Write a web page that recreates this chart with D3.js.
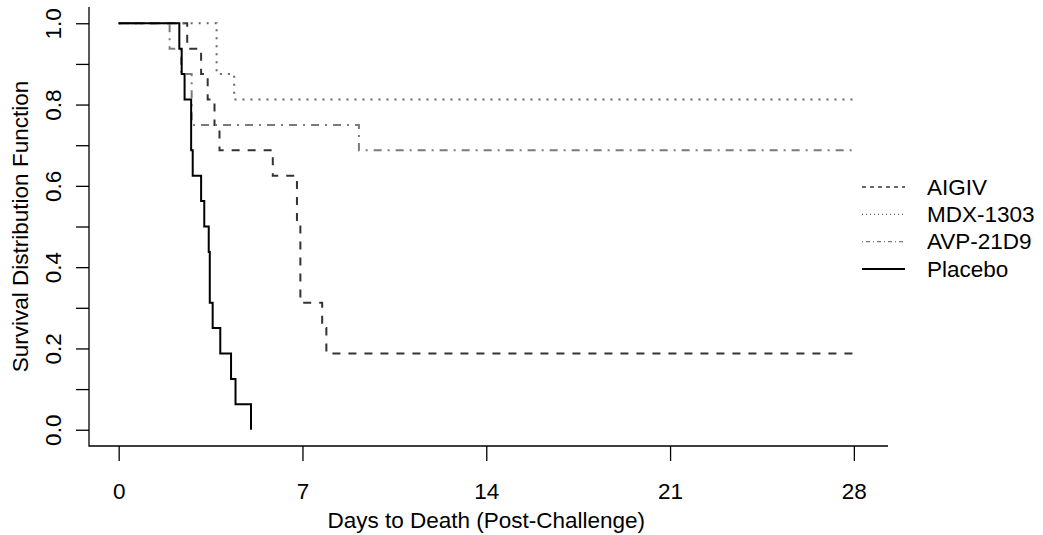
<!DOCTYPE html>
<html>
<head>
<meta charset="utf-8">
<script src="https://cdn.jsdelivr.net/npm/d3@7"></script>
<style>
  html, body { margin: 0; padding: 0; background: #fff; }
  svg { display: block; }
  text { font-family: "Liberation Sans", Arial, sans-serif; fill: #000; }
</style>
</head>
<body>
<svg id="chart" width="1043" height="535"></svg>
<script>
// ---- data (days post-challenge, survival proportion) ----
const seriesNames = ["AIGIV", "MDX-1303", "AVP-21D9", "Placebo"];
const aigivTimes = [0, 2.61, 3.14, 3.39, 3.65, 3.84, 5.87, 6.79, 6.92, 7.75, 7.91, 28];
const aigivSurv  = [1, 0.9375, 0.875, 0.8125, 0.75, 0.6875, 0.625, 0.5, 0.3125, 0.25, 0.1875, 0.1875];
const mdxTimes = [0, 3.73, 4.40, 28];
const mdxSurv  = [1, 0.875, 0.8125, 0.8125];
const avpTimes = [0, 1.94, 2.38, 2.78, 9.15, 28];
const avpSurv  = [1, 0.9375, 0.875, 0.75, 0.6875, 0.6875];
const placeboTimes = [0, 2.31, 2.40, 2.51, 2.76, 2.82, 3.14, 3.26, 3.43, 3.47, 3.58, 3.87, 4.28, 4.45, 5.04];
const placeboSurv  = [1, 0.9375, 0.875, 0.8125, 0.6875, 0.625, 0.5625, 0.5, 0.4375, 0.3125, 0.25, 0.1875, 0.125, 0.0625, 0];
const xTicks = [0, 7, 14, 21, 28];
const yMajorTicks = [0, 0.2, 0.4, 0.6, 0.8, 1.0];
const yMinorTicks = [0.1, 0.3, 0.5, 0.7, 0.9];
const xTitle = "Days to Death (Post-Challenge)";
const yTitle = "Survival Distribution Function";

// ---- styles ----
const FS = 22.5;
const styles = [
  { color: "#333333", dash: "8,8", legendDash: "4,4", w: 2, lw: 1.3 },
  { color: "#666666", dash: "2,6", legendDash: "1,3", w: 2, lw: 1.3 },
  { color: "#7a7a7a", dash: "2,6,8,6", legendDash: "1,3,4,3", w: 2, lw: 1.3 },
  { color: "#000000", dash: null, legendDash: null, w: 2, lw: 2 }
];

const svg = d3.select("#chart");
const x = d3.scaleLinear().domain([-1.13, 29.3]).range([89, 888]);
const y = d3.scaleLinear().domain([-0.04, 1.04]).range([446, 7]);

// axes lines (L-shaped box)
svg.append("path")
  .attr("d", `M${x.range()[0]},${y.range()[1]}V${y.range()[0]}H${x.range()[1]}`)
  .attr("fill", "none").attr("stroke", "#000").attr("stroke-width", 1.3);

// x axis
const xAxis = d3.axisBottom(x).tickValues(xTicks).tickSize(15).tickPadding(22).tickFormat(d3.format("d"));
const gx = svg.append("g").attr("transform", `translate(0,${y.range()[0]})`).call(xAxis);
gx.select(".domain").remove();
gx.selectAll(".tick line").attr("stroke", "#000").attr("stroke-width", 1.3);
gx.selectAll(".tick text").attr("font-size", FS).attr("font-family", "Liberation Sans, Arial, sans-serif");

// y axis
const yAxis = d3.axisLeft(y).tickValues(yMajorTicks.concat(yMinorTicks)).tickSize(13)
  .tickFormat(d => yMajorTicks.includes(d) ? d3.format(".1f")(d) : "");
const gy = svg.append("g").attr("transform", `translate(${x.range()[0]},0)`).call(yAxis);
gy.select(".domain").remove();
gy.selectAll(".tick line").attr("stroke", "#000").attr("stroke-width", 1.3);
gy.selectAll(".tick text")
  .attr("font-size", FS).attr("font-family", "Liberation Sans, Arial, sans-serif")
  .attr("text-anchor", "middle").attr("dy", null).attr("x", null)
  .attr("transform", "translate(-34,0) rotate(-90)")
  .attr("dominant-baseline", "middle");

// titles
svg.append("text").attr("x", x(14)).attr("y", 528).attr("text-anchor", "middle")
  .attr("font-size", FS).text(xTitle);
svg.append("text").attr("transform", `translate(28,${(y.range()[0] + y.range()[1]) / 2}) rotate(-90)`)
  .attr("text-anchor", "middle").attr("font-size", FS).text(yTitle);

// curves
const allSeries = [
  { times: aigivTimes, surv: aigivSurv },
  { times: mdxTimes, surv: mdxSurv },
  { times: avpTimes, surv: avpSurv },
  { times: placeboTimes, surv: placeboSurv }
];
const line = d3.line().x(d => x(d[0])).y(d => y(d[1])).curve(d3.curveStepAfter);
allSeries.forEach((s, i) => {
  const pts = s.times.map((t, j) => [t, s.surv[j]]);
  svg.append("path").attr("d", line(pts))
    .attr("fill", "none").attr("stroke", styles[i].color)
    .attr("stroke-width", styles[i].w)
    .attr("stroke-dasharray", styles[i].dash)
    .attr("stroke-linejoin", "miter");
});

// legend
const lg = svg.append("g");
seriesNames.forEach((name, i) => {
  const yy = 187 + i * 27.3;
  lg.append("line").attr("x1", 862).attr("x2", 905).attr("y1", yy).attr("y2", yy)
    .attr("stroke", styles[i].color).attr("stroke-width", styles[i].lw)
    .attr("stroke-dasharray", styles[i].legendDash);
  lg.append("text").attr("x", 927).attr("y", yy).attr("dy", "0.35em")
    .attr("font-size", FS).text(name);
});
</script>
</body>
</html>
